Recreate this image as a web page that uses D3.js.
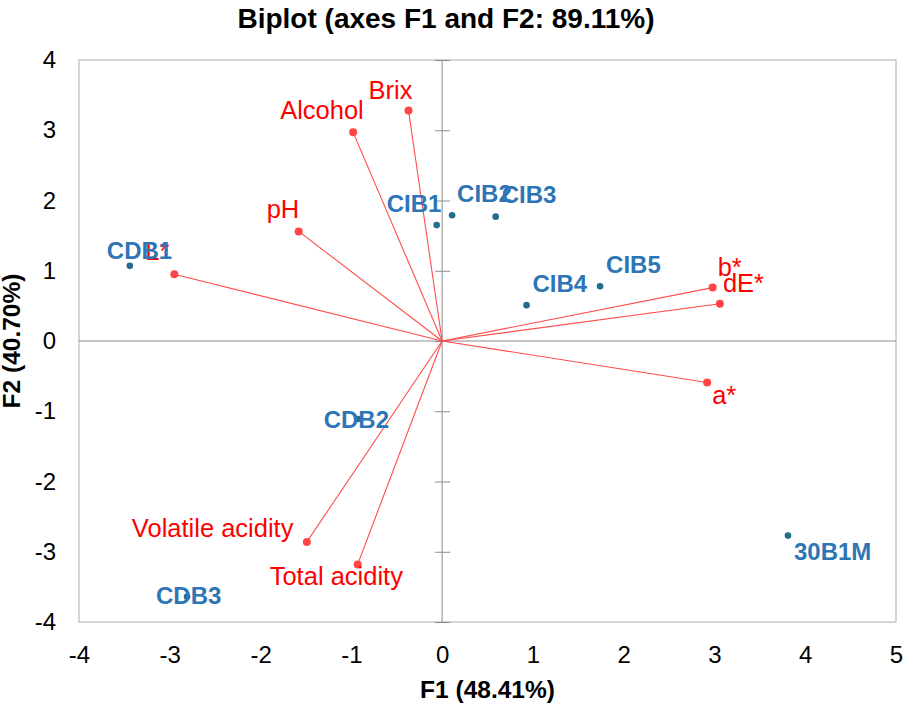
<!DOCTYPE html>
<html><head><meta charset="utf-8">
<script src="https://cdn.jsdelivr.net/npm/d3@7/dist/d3.min.js"></script>
<style>body{margin:0;background:#fff;} svg{display:block;font-family:Arial,"Liberation Sans",sans-serif;}</style>
</head><body>
<svg id="chart" width="907" height="706"></svg>
<script>
// ---- data ----
const obsNames = ["CDB1","CDB2","CDB3","CIB1","CIB2","CIB3","CIB4","CIB5","30B1M"];
const obsF1 = [-3.44,-0.93,-2.81,-0.06,0.11,0.59,0.93,1.74,3.81];
const obsF2 = [1.07,-1.11,-3.64,1.65,1.79,1.77,0.51,0.78,-2.77];
const varNames = ["Brix","Alcohol","pH","L*","Volatile acidity","Total acidity","b*","dE*","a*"];
const varF1 = [-0.37,-0.98,-1.58,-2.95,-1.49,-0.93,2.98,3.06,2.92];
const varF2 = [3.28,2.97,1.56,0.95,-2.86,-3.18,0.76,0.53,-0.59];
const xTicks = [-4,-3,-2,-1,0,1,2,3,4,5];
const yTicks = [-4,-3,-2,-1,0,1,2,3,4];
const titleText = "Biplot (axes F1 and F2: 89.11%)";
const xTitle = "F1 (48.41%)";
const yTitle = "F2 (40.70%)";

// ---- layout (label offsets in px, relative to point) ----
const obsLabelOff = {"CDB1":[-23,-7],"CDB2":[-34,9],"CDB3":[-31,7],"CIB1":[-50,-13],"CIB2":[5,-13],
  "CIB3":[6,-14],"CIB4":[6,-13],"CIB5":[6,-13],"30B1M":[6,24]};
const varLabelOff = {"Brix":[-40,-12],"Alcohol":[-73,-13],"pH":[-32,-13],"L*":[-29,-14],
  "Volatile acidity":[-175,-5],"Total acidity":[-88,21],"b*":[5,-12],"dE*":[3,-12],"a*":[5,22]};

const svg = d3.select("#chart");
const L = 79, R = 896, T = 60, B = 622;
const x = d3.scaleLinear().domain([-4,5]).range([L,R]);
const y = d3.scaleLinear().domain([-4,4]).range([B,T]);
const fmt = d => String(d);

// title
svg.append("text").attr("x",446).attr("y",28).attr("text-anchor","middle")
  .attr("font-size",28).attr("font-weight","bold").attr("fill","#000").text(titleText);

// plot border
svg.append("rect").attr("x",L).attr("y",T).attr("width",R-L).attr("height",B-T)
  .attr("fill","none").attr("stroke","#c8c8c8").attr("stroke-width",1.5);

// zero lines
svg.append("line").attr("x1",L).attr("x2",R).attr("y1",y(0)).attr("y2",y(0))
  .attr("stroke","#8c8c8c").attr("stroke-width",1);
svg.append("line").attr("x1",x(0)).attr("x2",x(0)).attr("y1",T).attr("y2",B)
  .attr("stroke","#8c8c8c").attr("stroke-width",1);

// cross ticks on vertical zero line
const zt = svg.append("g").attr("transform",`translate(${x(0)-7},0)`)
  .call(d3.axisRight(y).tickValues(yTicks).tickSize(15).tickFormat(""));
zt.select(".domain").remove();
zt.selectAll("line").attr("stroke","#8c8c8c");

// tick labels
const xa = svg.append("g").attr("transform",`translate(0,${B})`)
  .call(d3.axisBottom(x).tickValues(xTicks).tickSize(0).tickPadding(24).tickFormat(fmt));
xa.select(".domain").remove();
xa.selectAll("text").attr("font-size",24).attr("font-family","Arial,'Liberation Sans',sans-serif").attr("fill","#000");

const ya = svg.append("g").attr("transform",`translate(${L},0)`)
  .call(d3.axisLeft(y).tickValues(yTicks).tickSize(0).tickPadding(23).tickFormat(fmt));
ya.select(".domain").remove();
ya.selectAll("text").attr("font-size",24).attr("font-family","Arial,'Liberation Sans',sans-serif").attr("fill","#000");

// axis titles
svg.append("text").attr("x",(L+R)/2).attr("y",698).attr("text-anchor","middle")
  .attr("font-size",24.5).attr("font-weight","bold").text(xTitle);
svg.append("text").attr("transform",`translate(20,${(T+B)/2}) rotate(-90)`).attr("text-anchor","middle")
  .attr("font-size",24.5).attr("font-weight","bold").text(yTitle);

// variables (vectors)
const vars = varNames.map((n,i)=>({n, f1:varF1[i], f2:varF2[i]}));
svg.append("g").selectAll("line").data(vars).join("line")
  .attr("x1",x(0)).attr("y1",y(0)).attr("x2",d=>x(d.f1)).attr("y2",d=>y(d.f2))
  .attr("stroke","#ff4d4d").attr("stroke-width",1.1);
svg.append("g").selectAll("circle").data(vars).join("circle")
  .attr("cx",d=>x(d.f1)).attr("cy",d=>y(d.f2)).attr("r",4).attr("fill","#ff4545");
svg.append("g").selectAll("text").data(vars).join("text")
  .attr("x",d=>x(d.f1)+varLabelOff[d.n][0]).attr("y",d=>y(d.f2)+varLabelOff[d.n][1])
  .attr("font-size",25.5).attr("fill","#ff0000").text(d=>d.n);

// observations
const obs = obsNames.map((n,i)=>({n, f1:obsF1[i], f2:obsF2[i]}));
svg.append("g").selectAll("circle").data(obs).join("circle")
  .attr("cx",d=>x(d.f1)).attr("cy",d=>y(d.f2)).attr("r",3.3).attr("fill","#246c8c");
svg.append("g").selectAll("text").data(obs).join("text")
  .attr("x",d=>x(d.f1)+obsLabelOff[d.n][0]).attr("y",d=>y(d.f2)+obsLabelOff[d.n][1])
  .attr("font-size",24).attr("font-weight","bold").attr("fill","#2e75b6").text(d=>d.n);
</script>
</body></html>
